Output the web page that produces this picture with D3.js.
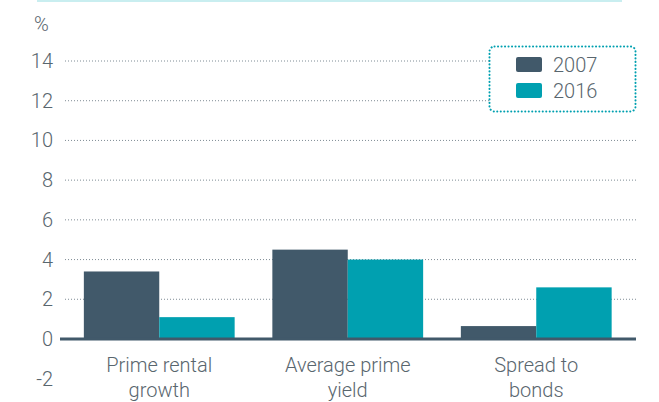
<!doctype html>
<html lang="en">
  <head>
    <meta charset="utf-8">
    <title>Prime rental growth, yield and spread</title>
    <style>
      body{ margin:0; background:#fff; }
      svg text{ font-family: Roboto, "Liberation Sans", sans-serif; font-weight:300; fill:#59666e; }
    </style>
  </head>
  <body>
    <svg id="chart" width="659" height="402"></svg>
    <script src="https://d3js.org/d3.v7.min.js"></script>
    <script>
      //chart data
      var categories = [["Prime rental", "growth"], ["Average prime", "yield"], ["Spread to", "bonds"]];
      var seriesNames = ["2007", "2016"];
      var values2007 = [3.4, 4.5, 0.65];
      var values2016 = [1.1, 4.0, 2.6];
      var yTicks = [-2, 0, 2, 4, 6, 8, 10, 12, 14];

      var colors = {"2007": "#41596a", "2016": "#00a0b0"};

      var svg = d3.select("#chart");

      //top accent line
      svg.append("rect")
        .attr("x", 37).attr("y", 0)
        .attr("width", 585).attr("height", 2)
        .style("fill", "#c9eef0");

      var y = d3.scaleLinear().domain([-2, 14]).range([378.7, 61]);

      var x0 = d3.scaleBand()
        .domain(d3.range(categories.length))
        .range([65, 630.5])
        .paddingInner(0.2)
        .paddingOuter(0.1);

      var x1 = d3.scaleBand()
        .domain(seriesNames)
        .range([0, x0.bandwidth()]);

      //grid lines
      svg.append("g")
        .selectAll("line")
        .data(yTicks.filter(function(d){ return d > 0; }))
        .enter()
        .append("line")
        .attr("x1", 65).attr("x2", 636)
        .attr("y1", function(d){ return y(d); })
        .attr("y2", function(d){ return y(d); })
        .style("stroke", "#7f8c95")
        .style("stroke-width", 1)
        .style("stroke-dasharray", "1,2");

      //tick labels
      svg.append("g")
        .selectAll("text")
        .data(yTicks)
        .enter()
        .append("text")
        .attr("x", 53)
        .attr("y", function(d){ return y(d); })
        .attr("dy", "0.35em")
        .attr("text-anchor", "end")
        .style("font-size", "20px")
        .text(function(d){ return d; });

      svg.append("text")
        .attr("x", 34).attr("y", 31)
        .style("font-size", "20px")
        .text("%");

      //bars
      var rows = categories.map(function(c, i){
        return [{k: "2007", v: values2007[i]}, {k: "2016", v: values2016[i]}];
      });

      svg.append("g")
        .selectAll("g")
        .data(rows)
        .enter()
        .append("g")
        .attr("transform", function(d, i){ return "translate(" + x0(i) + ",0)"; })
        .selectAll("rect")
        .data(function(d){ return d; })
        .enter()
        .append("rect")
        .attr("x", function(d){ return x1(d.k); })
        .attr("width", x1.bandwidth())
        .attr("y", function(d){ return y(Math.max(0, d.v)); })
        .attr("height", function(d){ return Math.abs(y(d.v) - y(0)); })
        .style("fill", function(d){ return colors[d.k]; });

      //zero axis
      svg.append("line")
        .attr("x1", 60).attr("x2", 636)
        .attr("y1", y(0)).attr("y2", y(0))
        .style("stroke", "#41596a")
        .style("stroke-width", 3);

      //category labels
      var catLabels = svg.append("g")
        .selectAll("text")
        .data(categories)
        .enter()
        .append("text")
        .attr("text-anchor", "middle")
        .attr("x", function(d, i){ return x0(i) + x0.bandwidth() / 2; })
        .attr("y", 372)
        .style("font-size", "20px");

      catLabels.selectAll("tspan")
        .data(function(d){ return d; })
        .enter()
        .append("tspan")
        .attr("x", function(){ return d3.select(this.parentNode).attr("x"); })
        .attr("dy", function(d, i){ return i ? 25 : 0; })
        .text(function(d){ return d; });

      //legend
      var legend = svg.append("g");
      legend.append("rect")
        .attr("x", 489.5).attr("y", 46.5)
        .attr("width", 146).attr("height", 65)
        .attr("rx", 5)
        .style("fill", "#fff")
        .style("stroke", "#00a0b0")
        .style("stroke-width", 2)
        .style("stroke-dasharray", "0.1,3.4")
        .style("stroke-linecap", "round");

      var legendItems = legend.selectAll("g")
        .data(seriesNames)
        .enter()
        .append("g")
        .attr("transform", function(d, i){ return "translate(516," + (57 + i * 26) + ")"; });

      legendItems.append("rect")
        .attr("width", 26).attr("height", 15)
        .attr("rx", 2)
        .style("fill", function(d){ return colors[d]; });

      legendItems.append("text")
        .attr("x", 37).attr("y", 8)
        .attr("dy", "0.35em")
        .style("font-size", "20px")
        .text(function(d){ return d; });
    </script>
  </body>
</html>
